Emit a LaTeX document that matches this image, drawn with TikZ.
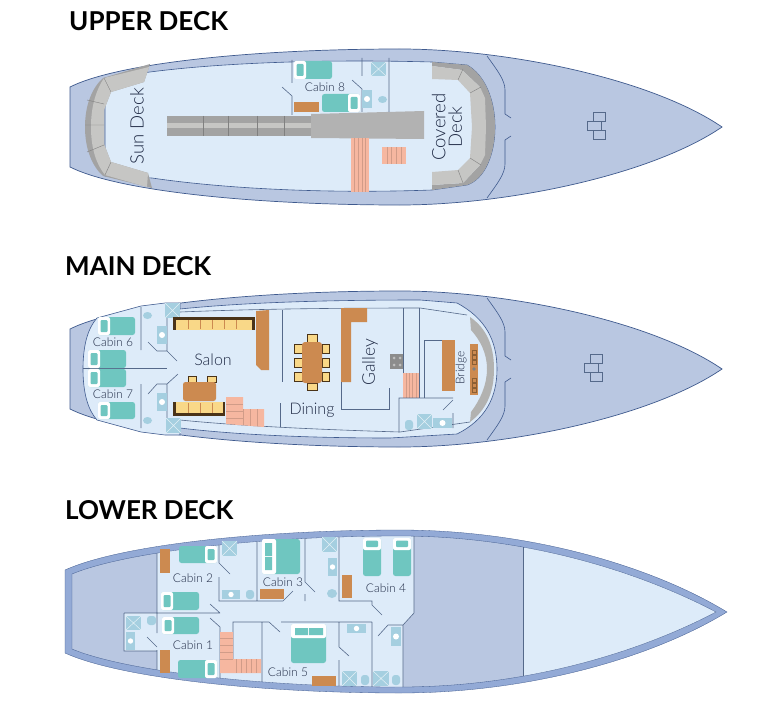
\documentclass[tikz,border=0pt]{standalone}
\usepackage{fontspec}
\setmainfont{Lato}
\newfontfamily\lightf{Lato Light}
\definecolor{hull}{HTML}{B9C7E1}
\definecolor{hullline}{HTML}{3F5A8E}
\definecolor{deck}{HTML}{DDEBF9}
\definecolor{wallc}{HTML}{55698A}
\definecolor{teal}{HTML}{6FC6C0}
\definecolor{orng}{HTML}{CC8A50}
\definecolor{salm}{HTML}{F6B7A0}
\definecolor{yell}{HTML}{F9D888}
\definecolor{brwn}{HTML}{4A3318}
\definecolor{shwr}{HTML}{A5CFE0}
\definecolor{dgrey}{HTML}{A3A3A3}
\definecolor{lgrey}{HTML}{C6C6C4}
\definecolor{band}{HTML}{93AAD6}
\definecolor{txt}{HTML}{1F2A45}
\tikzset{
  wall/.style={draw=wallc,line width=.6pt},
  hullshape/.style={fill=hull,draw=hullline,line width=.7pt},
  deckshape/.style={fill=deck,draw=hullline,line width=.6pt},
  title/.style={font=\fontsize{26}{26}\selectfont\bfseries,text=black,anchor=west,inner sep=0pt},
  lab/.style={font=\lightf\fontsize{12}{12}\selectfont,text=txt,inner sep=0pt},
  biglab/.style={font=\lightf\fontsize{18.5}{18.5}\selectfont,text=txt,inner sep=0pt,align=center},
  midlab/.style={font=\lightf\fontsize{16}{16}\selectfont,text=txt,inner sep=0pt},
  icon/.style={draw=wallc,line width=.5pt},
}
% x1 y1 x2 y2
\newcommand{\orng}[4]{\fill[orng] (#1,#2) rectangle (#3,#4);}
\newcommand{\shower}[4]{\fill[shwr] (#1,#2) rectangle (#3,#4);
  \draw[white!70!shwr,line width=.5pt] (#1,#2)--(#3,#4) (#1,#4)--(#3,#2);}
\newcommand{\sink}[4]{\fill[shwr] (#1,#2) rectangle (#3,#4);
  \fill[white] ({(#1+#3)/2},{(#2+#4)/2}) ellipse ({min(#3-#1,#4-#2)*.3} and {min(#3-#1,#4-#2)*.3});}
\newcommand{\toilet}[4]{\fill[shwr] ({(#1+#3)/2},{(#2+#4)/2}) ellipse ({(#3-#1)/2} and {(#4-#2)/2});}
\newcommand{\arch}[4]{\fill[shwr,rounded corners=3pt] (#1,#4) -- (#1,#2) -- (#3,#2) -- (#3,#4) -- cycle;}
\newcommand{\bedL}[4]{\fill[teal,rounded corners=2.5pt] (#1,#2) rectangle (#3,#4);
  \fill[white,rounded corners=2pt] (#1,#2) rectangle ({#1+12},#4);
  \fill[teal,rounded corners=1pt] ({#1+2.5},{#2+3}) rectangle ({#1+9.5},{#4-3});}
\newcommand{\bedR}[4]{\fill[teal,rounded corners=2.5pt] (#1,#2) rectangle (#3,#4);
  \fill[white,rounded corners=2pt] ({#3-12},#2) rectangle (#3,#4);
  \fill[teal,rounded corners=1pt] ({#3-9.5},{#2+3}) rectangle ({#3-2.5},{#4-3});}
\newcommand{\bedT}[4]{\fill[teal,rounded corners=2.5pt] (#1,#2) rectangle (#3,#4);
  \fill[white,rounded corners=2pt] (#1,#2) rectangle (#3,{#2+12});
  \fill[teal,rounded corners=1pt] ({#1+3},{#2+2.5}) rectangle ({#3-3},{#2+9});}
\newcommand{\chair}[4]{\fill[yell,draw=brwn,line width=.9pt] (#1,#2) rectangle (#3,#4);}
\newcommand{\stairsV}[4]{\fill[salm] (#1,#2) rectangle (#3,#4);
  \foreach \i in {1,...,4} \draw[salm!85!black,line width=.3pt] ({#1+(#3-#1)*\i/5},#2)--({#1+(#3-#1)*\i/5},#4);}
\newcommand{\hullpath}{(70,87) .. controls (120,62) and (260,49) .. (400,49)
  .. controls (505,49) and (650,78) .. (722,127)
  .. controls (650,176) and (505,205) .. (400,205)
  .. controls (260,205) and (120,192) .. (70,167) -- cycle}
\newcommand{\foreline}{\draw[draw=hullline,line width=.6pt]
  (487,56) .. controls (497,70) and (505,80) .. (505,90) -- (505,114) -- (511,118)
  (511,136) -- (505,140) -- (505,164) .. controls (505,174) and (497,184) .. (487,198);}
\begin{document}
\begin{tikzpicture}[x=1pt,y=-1pt]
\useasboundingbox (0,0) rectangle (768,706);
\fill[white] (0,0) rectangle (768,706);

% ---------- UPPER DECK
\node[title] (t1) at (69,21) {UPPER DECK};
\draw[hullshape] \hullpath;
\foreline
\draw[icon] (593,112) rectangle (605,121) (587,121) rectangle (601,130) (593,130) rectangle (605,139);
\draw[deckshape] (105,78) -- (150,72)
  .. controls (220,63) and (320,59) .. (432,62) -- (467,65)
  .. controls (485,75) and (495,100) .. (495,127)
  .. controls (495,154) and (485,179) .. (467,185) -- (432,190)
  .. controls (320,194) and (220,188) .. (152,178) -- (105,176) -- cycle;
% sun deck seats
\fill[dgrey] (150,64) -- (103,78) .. controls (92,88) and (85,105) .. (85,127)
  .. controls (85,149) and (92,166) .. (103,176) -- (152,188) -- (148,173) -- (111,162)
  -- (104,144) -- (104,110) -- (111,92) -- (144,82) -- cycle;
\fill[lgrey] (104,78) -- (149,67) -- (144,82) -- (111,92) -- (104,110) -- (104,144) -- (111,162)
  -- (148,173) -- (147,187) -- (105,175) .. controls (97,165) and (91,150) .. (91,127)
  .. controls (91,104) and (97,89) .. cycle;
\draw[gray,line width=.4pt] (85,125)--(104,125) (87,100)--(104,104) (87,152)--(104,145)
  (104,78)--(111,92) (105,175)--(111,162);
% covered deck seats
\fill[dgrey] (432,62) -- (467,65) .. controls (485,75) and (495,100) .. (495,127)
  .. controls (495,154) and (485,179) .. (467,185) -- (432,190) -- (432,185) -- (463,183)
  -- (480,165) -- (486,127) -- (480,87) -- (462,70) -- (432,66) -- cycle;
\fill[lgrey] (432,66) -- (462,70) -- (480,87) -- (485,98) -- (486,127) -- (485,155) -- (480,165)
  -- (463,183) -- (432,185) -- (432,172) -- (458,170) -- (470,158) -- (472,127) -- (470,93)
  -- (458,80) -- (432,79) -- cycle;
\draw[gray,line width=.4pt] (458,80)--(463,69) (470,93)--(481,87) (470,158)--(481,165) (458,170)--(463,183);
% gangway
\fill[dgrey] (167,116) rectangle (311,136);
\fill[lgrey] (167,123) rectangle (311,128);
\draw[black!50,line width=.4pt] (203,116)--(203,136) (228,116)--(228,136) (257,116)--(257,136) (284,116)--(284,136);
\fill[black!30] (311,114) -- (424,111) -- (424,139) -- (311,138) -- cycle;
\stairsV{351}{138}{369}{192}
\stairsV{382}{147}{406}{164}
% cabin 8
\draw[wall] (292,60)--(292,83) (282,87)--(292,96)--(292,115)
  (362,58)--(362,76) (352,80)--(362,89)--(362,112) (389,58)--(389,112);
\bedL{294}{61}{332}{79}
\bedR{322}{94}{360}{112}
\orng{294}{102}{319}{112}
\sink{362}{90}{372}{108}
\toilet{378}{96}{387}{103}
\shower{371}{62}{386}{76}
\node[lab] (c8) at (325,87) {Cabin 8};
\node[biglab,rotate=90] (sun) at (137,126) {Sun Deck};
\node[biglab,rotate=90] (cov) at (447,127) {Covered\\[-2pt]Deck};

% ---------- MAIN DECK
\node[title] (t2) at (65,266) {MAIN DECK};
\begin{scope}[yshift=-242pt]
\draw[hullshape] \hullpath;
\foreline
\end{scope}
\draw[icon] (590,354) rectangle (602,363) (584,363) rectangle (598,372) (590,372) rectangle (602,381);
\draw[deckshape] (83,369) .. controls (83,345) and (88,328) .. (97,318) -- (141,306) -- (165,303)
  -- (180,303) -- (180,309) .. controls (230,304) and (300,300) .. (420,300) -- (457,303)
  .. controls (485,318) and (497,340) .. (497,369)
  .. controls (497,398) and (485,420) .. (457,434) -- (390,438)
  .. controls (300,438) and (230,434) .. (180,428) -- (180,435) -- (165,435) -- (141,432) -- (97,420)
  .. controls (88,410) and (83,393) .. cycle;
\draw[wall] (180,312) .. controls (230,310) and (300,308) .. (420,308) -- (467,315);
\draw[wall] (180,420) .. controls (230,425) and (300,429) .. (400,432) -- (470,422);
\fill[lgrey!90!black] (470,317) .. controls (486,328) and (494,345) .. (494,369)
  .. controls (494,393) and (486,410) .. (470,422) -- (471,412) .. controls (480,400) and (487,385) .. (487,369)
  .. controls (487,353) and (480,340) .. (471,330) -- cycle;
\draw[wall] (83,368)--(167,368);
\draw[wall] (141,307)--(141,350) (148,342)--(157,351)--(167,351)--(177,361) (167,318)--(167,351)
  (141,384)--(141,428) (148,394)--(157,384)--(167,384)--(178,374) (167,384)--(167,418);
\bedL{98}{317}{135}{335}
\bedL{88}{350}{126}{368}
\bedL{88}{369}{126}{387}
\bedL{98}{402}{135}{419}
\toilet{143}{312}{152}{319}
\toilet{143}{417}{152}{424}
\sink{157}{326}{167}{344}
\sink{157}{393}{167}{411}
\shower{165}{303}{180}{318}
\shower{166}{418}{181}{433}
\node[lab] (c6) at (113,342) {Cabin 6};
\node[lab] (c7) at (113,394) {Cabin 7};
% salon
\fill[brwn] (173,317) rectangle (255,330);
\fill[yell] (176,320) rectangle (252,330);
\foreach \v in {188,200,212,224,236} \draw[orng,line width=.3pt] (\v,320)--(\v,329);
\fill[brwn] (173,402) rectangle (225,416);
\fill[yell] (176,402) rectangle (223,413);
\foreach \v in {188,200,212} \draw[orng,line width=.3pt] (\v,403)--(\v,413);
\chair{188.5}{376.5}{196.5}{382}
\chair{207.5}{376.5}{216.5}{382}
\fill[orng,rounded corners=2.5pt] (183,382) rectangle (216,401);
\fill[orng] (256,311) -- (269,310) -- (269,370) -- (261,370) -- (256,365) -- cycle;
\draw[wall] (282,310)--(282,382) (280,403)--(280,427);
\fill[salm] (226,397) -- (243,397) -- (243,409) -- (264,409) -- (264,427) -- (226,424) -- cycle;
\draw[salm!85!black,line width=.3pt] (226,404)--(243,404) (226,411)--(243,411) (226,418)--(243,418)
  (243,409)--(243,425) (250,409)--(250,425.5) (257,409)--(257,426);
\node[midlab] (salon) at (213,360) {Salon};
% dining
\chair{307}{334.5}{317}{342}
\chair{307}{383}{317}{390.5}
\chair{294.5}{344}{302}{353}
\chair{294.5}{358}{302}{367}
\chair{294.5}{372}{302}{381}
\chair{322}{344}{329.5}{353}
\chair{322}{358}{329.5}{367}
\chair{322}{372}{329.5}{381}
\fill[orng,rounded corners=3pt] (302,342) rectangle (322,383);
\node[midlab] (din) at (312,410) {Dining};
% galley
\fill[orng] (341,308) -- (367,308) -- (367,322) -- (351,322) -- (351,382) -- (341,382) -- cycle;
\draw[wall] (341,382)--(341,409)--(389,409)--(389,388);
\fill[black!45] (390,354) rectangle (404,369);
\foreach \a in {394,400} \foreach \b in {358,365} \fill[black!25] (\a,\b) circle (1.5pt);
\draw[wall] (403,308)--(403,373) (419,308)--(419,398);
\stairsV{403}{373}{419}{398}
\node[midlab,rotate=90,font=\lightf\fontsize{17.5}{17.5}\selectfont] (gal) at (370,362) {Galley};
% bridge
\draw[wall] (424,398)--(424,340)--(442,340);
\fill[orng] (442,340) rectangle (455,391);
\fill[orng] (470,344) rectangle (478,395);
\foreach \b in {350,355,360,378,383,388} \draw[brwn!50!orng,line width=.3pt] (472,\b) rectangle (476,\b+4);
\fill[black!50] (474,369) circle (1.8pt);
\node[lab,rotate=90] (br) at (461,368) {Bridge};
\draw[wall] (399,432)--(399,398)--(453,398) (443,410)--(453,400) (453,413)--(453,428);
\shower{417}{414}{432}{429}
\arch{405}{420}{413}{430}
\sink{433}{418}{452}{428}

% ---------- LOWER DECK
\node[title] (t3) at (65,510) {LOWER DECK};
\fill[band,draw=hullline,line width=.3pt] (65,570) .. controls (120,545) and (260,530) .. (400,530)
  .. controls (527,530) and (650,565) .. (727,612)
  .. controls (650,659) and (527,693) .. (400,693)
  .. controls (260,693) and (120,678) .. (65,653) -- cycle;
\begin{scope}
\clip (72,574) .. controls (125,552) and (260,536) .. (400,536)
  .. controls (527,536) and (640,572) .. (716,612)
  .. controls (640,652) and (527,687) .. (400,687)
  .. controls (260,687) and (125,671) .. (72,649) -- cycle;
\fill[hull] (60,520) rectangle (730,700);
\fill[deck] (523,520) rectangle (730,700);
\fill[deck] (157,520) rectangle (414,613) (414,613) -- (403,625) -- (403,700) -- (157,700) -- (157,613) -- cycle;
\fill[deck] (124,613) rectangle (157,651);
\draw[wall] (523,520)--(523,700);
\draw[wall] (157,540)--(157,633) (157,650)--(157,690)
  (124,613)--(220,613) (124,613)--(124,651)--(157,651)
  (147,637)--(157,647)
  (210,604)--(220,613) (210,618)--(220,627)--(220,690)
  (219,530)--(219,563)--(230,574) (219,577)--(219,601)--(283,601)--(293,591)
  (257,530)--(257,601)
  (233,659)--(233,622)--(269,622)--(280,632)
  (262,622)--(262,690)
  (305,530)--(305,582)--(315,592) (305,594)--(305,601)
  (339,530)--(339,601)--(372,601)--(372,605)--(382,615)
  (414,530)--(414,613)--(403,625)--(403,690)
  (403,625)--(388,625)--(378,636)
  (372,622)--(372,690)
  (281,622)--(372,622)
  (339,622)--(339,647)--(349,656) (339,660)--(339,690);
\fill[salm] (220,632) -- (233,632) -- (233,659) -- (261,659) -- (261,673) -- (220,673) -- cycle;
\draw[salm!85!black,line width=.3pt] (220,638)--(233,638) (220,645)--(233,645) (220,652)--(233,652)
  (220,659)--(233,659) (236,659)--(236,673) (241,659)--(241,673) (246,659)--(246,673) (251,659)--(251,673) (256,659)--(256,673);
\end{scope}
\draw[hullline,line width=.3pt] (72,574) .. controls (125,552) and (260,536) .. (400,536)
  .. controls (527,536) and (640,572) .. (716,612)
  .. controls (640,652) and (527,687) .. (400,687)
  .. controls (260,687) and (125,671) .. (72,649) -- cycle;
\orng{160}{549}{170}{573}
\orng{160}{650}{170}{673}
\bedR{179}{546}{217}{563}
\bedL{161}{592}{199}{610}
\bedL{162}{617}{199}{634}
\bedR{178}{660}{217}{678}
\shower{126}{616}{141}{630}
\arch{147}{616}{156}{625}
\sink{126}{632}{135}{650}
\shower{222}{541}{237}{556}
\sink{222}{590}{240}{599}
\arch{246}{590}{254}{599}
\node[lab] (c2) at (193,578) {Cabin 2};
\node[lab] (c1) at (193,645) {Cabin 1};
% cabin 3
\fill[teal,rounded corners=2.5pt] (262,539) rectangle (300,574);
\fill[white,rounded corners=2pt] (262,539) rectangle (276,574);
\fill[teal] (265,543) rectangle (272,556) (265,557) rectangle (272,570);
\orng{260}{589}{284}{599}
\node[lab] (c3) at (283,582) {Cabin 3};
\shower{322}{537}{337}{552}
\sink{328}{558}{337}{576}
\toilet{327}{589}{337}{598}
% cabin 4
\orng{342}{575}{352}{598}
\bedT{363}{538}{381}{576}
\bedT{393}{538}{411}{576}
\node[lab] (c4) at (386,588) {Cabin 4};
% cabin 5
\fill[teal,rounded corners=2.5pt] (291,624) rectangle (326,663);
\fill[white,rounded corners=2pt] (291,624) rectangle (326,638);
\fill[teal] (295,628) rectangle (308,635) (309,628) rectangle (323,635);
\node[lab] (c5) at (288,672) {Cabin 5};
\orng{312}{676}{336}{686}
\sink{347}{624}{366}{633}
\shower{342}{671}{357}{686}
\arch{361}{675}{369}{685}
\shower{373}{671}{389}{686}
\arch{392}{675}{400}{685}
\sink{391}{627}{401}{646}
\end{tikzpicture}
\end{document}
